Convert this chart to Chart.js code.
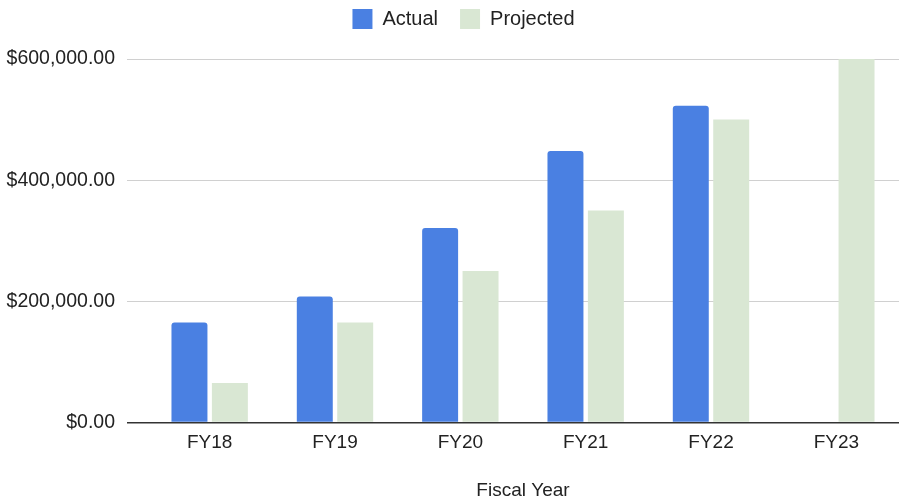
<!DOCTYPE html>
<html>
<head>
<meta charset="utf-8">
<script src="https://cdn.jsdelivr.net/npm/chart.js@4"></script>
<style>
  html, body { margin: 0; padding: 0; background: #ffffff; }
  #wrap { width: 914px; height: 500px; }
</style>
</head>
<body>
<div id="wrap"><canvas id="fyChart" width="914" height="500"></canvas></div>
<script>
// Chart data
const years = ['FY18', 'FY19', 'FY20', 'FY21', 'FY22', 'FY23'];
const actual = [165000, 208000, 321000, 448000, 523000, null];
const projected = [65000, 165000, 250000, 350000, 500000, 600000];
const yTicks = [0, 200000, 400000, 600000];

const fontFamily = '"Liberation Sans", Arial, Helvetica, sans-serif';
const textColor = '#222222';

function money(v) {
  return '$' + v.toLocaleString('en-US', { minimumFractionDigits: 2, maximumFractionDigits: 2 });
}

// push the plot a bit further below the legend, and nudge legend right
const legendMargin = {
  id: 'legendMargin',
  beforeInit(chart) {
    const origFit = chart.legend.fit;
    chart.legend.fit = function () {
      origFit.bind(chart.legend)();
      this.height += 20;
    };
  },
  afterLayout(chart) {
    chart.legend.left += 28;
  }
};

const ctx = document.getElementById('fyChart');

new Chart(ctx, {
  type: 'bar',
  data: {
    labels: years,
    datasets: [
      {
        label: 'Actual',
        data: actual,
        backgroundColor: '#4a80e2',
        borderRadius: { topLeft: 3, topRight: 3 },
        borderSkipped: 'bottom',
        categoryPercentage: 0.645,
        barPercentage: 0.89
      },
      {
        label: 'Projected',
        data: projected,
        backgroundColor: '#d9e7d3',
        categoryPercentage: 0.645,
        barPercentage: 0.89
      }
    ]
  },
  options: {
    responsive: false,
    animation: false,
    layout: {
      padding: { top: -13, right: 15, bottom: -2, left: 0 }
    },
    scales: {
      x: {
        grid: { display: false },
        border: { display: false },
        ticks: {
          color: textColor,
          font: { family: fontFamily, size: 19 },
          padding: 1
        },
        title: {
          display: true,
          text: 'Fiscal Year',
          color: textColor,
          font: { family: fontFamily, size: 19 },
          padding: { top: 24, bottom: 0 }
        }
      },
      y: {
        min: 0,
        max: 600000,
        afterBuildTicks: axis => {
          axis.ticks = yTicks.map(v => ({ value: v }));
        },
        afterFit: axis => {
          axis.width = 147;
        },
        border: { display: false },
        grid: {
          color: c => (c.tick && c.tick.value === 0 ? '#333333' : '#d0d0d0'),
          lineWidth: c => (c.tick && c.tick.value === 0 ? 1.5 : 1),
          drawTicks: true,
          tickLength: 20
        },
        ticks: {
          color: textColor,
          font: { family: fontFamily, size: 19.5 },
          padding: 12,
          callback: v => money(v)
        }
      }
    },
    plugins: {
      legend: {
        position: 'top',
        labels: {
          color: textColor,
          font: { family: fontFamily, size: 20 },
          boxWidth: 20,
          boxHeight: 20,
          padding: 22
        }
      },
      tooltip: { enabled: false }
    }
  },
  plugins: [legendMargin]
});
</script>
</body>
</html>
